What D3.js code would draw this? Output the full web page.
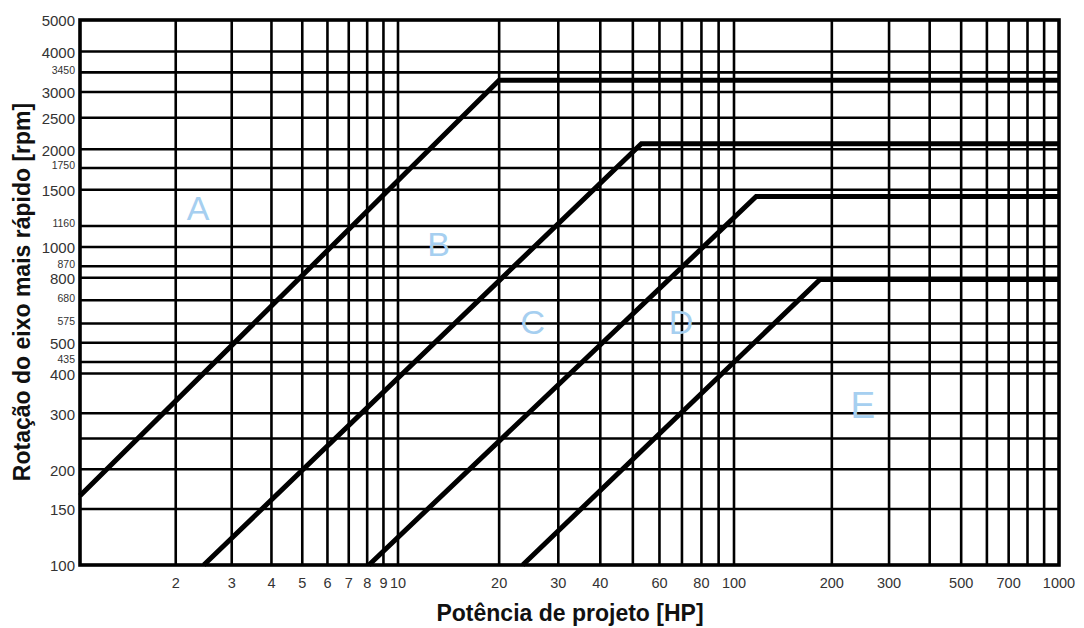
<!DOCTYPE html>
<html>
<head>
<meta charset="utf-8">
<script src="https://cdn.jsdelivr.net/npm/d3@7"></script>
<style>
  body { margin: 0; background: #fff; }
  svg { display: block; font-family: Arial, "Liberation Sans", sans-serif; }
</style>
</head>
<body>
<div id="grafica"></div>
<script>
// datos
const xGrid = [2,3,4,5,6,7,8,9,10,20,30,40,50,60,70,80,90,100,200,300,400,500,600,700,800,900]
const xLabels = [2,3,4,5,6,7,8,9,10,20,30,40,60,80,100,200,300,500,700,1000]
const yGrid = [4000,3450,3000,2500,2000,1750,1500,1160,1000,870,800,680,575,500,435,400,300,250,200,150]
const yLabelsBig = [5000,4000,3000,2500,2000,1500,1000,800,500,400,300,200,150,100]
const yLabelsSmall = [3450,1750,1160,870,680,575,435]

// curvas: [HP, rpm]
const curveA = [[1,165],[20,3260],[1000,3260]]
const curveB = [[2.45,100],[53,2080],[1000,2080]]
const curveC = [[8.1,100],[117,1430],[1000,1430]]
const curveD = [[23.5,100],[184,790],[1000,790]]

const zones = ["A","B","C","D","E"]
const zoneAt = [[2.35,1320],[13.2,1020],[25.2,580],[69.5,580],[249,320]]

let width = 1084
let height = 628

// escalas log (por tramos, el papel original no es perfecto)
let x = d3.scaleLog().domain([1,10,100,1000]).range([80,398,734,1059])
let y = d3.scaleLog().domain([100,1000,5000]).range([565,247,20])

let svg = d3.select("#grafica").append("svg")
  .attr("width", width)
  .attr("height", height)

// rejilla
svg.append("g").selectAll("line").data(xGrid).enter().append("line")
  .attr("x1", d => x(d)).attr("x2", d => x(d))
  .attr("y1", y(5000)).attr("y2", y(100))
  .attr("stroke", "#000").attr("stroke-width", 2.6)

svg.append("g").selectAll("line").data(yGrid).enter().append("line")
  .attr("x1", x(1)).attr("x2", x(1000))
  .attr("y1", d => y(d)).attr("y2", d => y(d))
  .attr("stroke", "#000").attr("stroke-width", 2.6)

// marco
svg.append("rect")
  .attr("x", x(1)).attr("y", y(5000))
  .attr("width", x(1000) - x(1)).attr("height", y(100) - y(5000))
  .attr("fill", "none").attr("stroke", "#000").attr("stroke-width", 3.6)

// curvas
let line = d3.line().x(d => x(d[0])).y(d => y(d[1]))
svg.append("g").selectAll("path").data([curveA, curveB, curveC, curveD]).enter().append("path")
  .attr("d", line)
  .attr("fill", "none")
  .attr("stroke", "#000")
  .attr("stroke-width", 5)
  .attr("stroke-linejoin", "miter")

// etiquetas eje y
svg.append("g").selectAll("text").data(yLabelsBig).enter().append("text")
  .attr("x", 75).attr("y", d => y(d) + 1)
  .attr("dy", "0.36em")
  .attr("text-anchor", "end")
  .style("font-size", "15px")
  .attr("fill", "#333")
  .text(d => d)

svg.append("g").selectAll("text").data(yLabelsSmall).enter().append("text")
  .attr("x", 75).attr("y", d => y(d) - 2.5)
  .attr("dy", "0.36em")
  .attr("text-anchor", "end")
  .style("font-size", "10.5px")
  .attr("fill", "#333")
  .text(d => d)

// etiquetas eje x
svg.append("g").selectAll("text").data(xLabels).enter().append("text")
  .attr("x", d => x(d)).attr("y", 588)
  .attr("text-anchor", "middle")
  .style("font-size", "14.5px")
  .attr("fill", "#333")
  .text(d => d)

// zonas
svg.append("g").selectAll("text").data(zones).enter().append("text")
  .attr("x", (d, i) => x(zoneAt[i][0]))
  .attr("y", (d, i) => y(zoneAt[i][1]))
  .attr("text-anchor", "middle")
  .attr("dy", "0.36em")
  .style("font-size", (d, i) => i == 4 ? "37px" : "34px")
  .attr("fill", "#a6cff0")
  .text(d => d)

// titulos
svg.append("text")
  .attr("x", 570).attr("y", 621)
  .attr("text-anchor", "middle")
  .style("font-size", "23px").style("font-weight", "bold")
  .attr("fill", "#111")
  .text("Potência de projeto [HP]")

svg.append("text")
  .attr("transform", "translate(30,292) rotate(-90)")
  .attr("text-anchor", "middle")
  .style("font-size", "23px").style("font-weight", "bold")
  .attr("fill", "#111")
  .text("Rotação do eixo mais rápido [rpm]")
</script>
</body>
</html>
